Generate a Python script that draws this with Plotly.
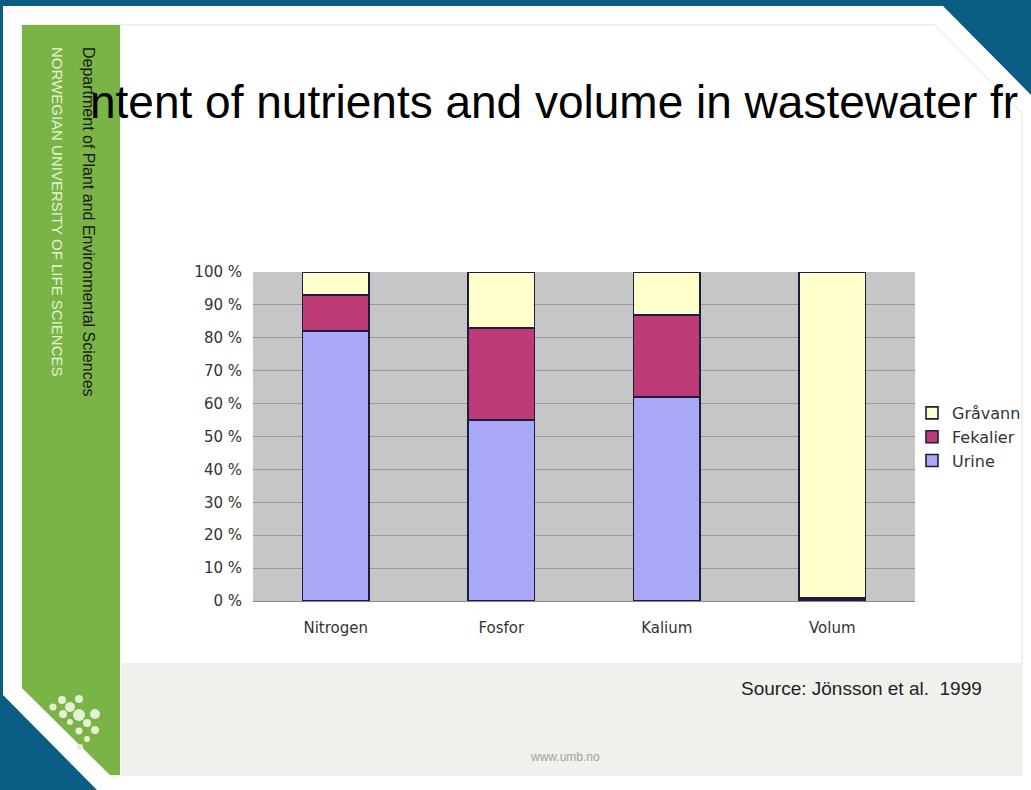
import plotly.graph_objects as go

W, H = 1031, 790

categories = ["Nitrogen", "Fosfor", "Kalium", "Volum"]
urine = [82, 55, 62, 0.5]
fekalier = [11, 28, 25, 0.5]
gravann = [7, 17, 13, 99]
tick_vals = [0, 10, 20, 30, 40, 50, 60, 70, 80, 90, 100]
tick_text = [f"{v} %" for v in tick_vals]

title_text = "ntent of nutrients and volume in wastewater fr"
source_text = "Source: Jönsson et al.  1999"
dept_text = "Department of Plant and Environmental Sciences"
univ_text = "NORWEGIAN UNIVERSITY OF LIFE SCIENCES"

SANS = "Liberation Sans, Arial"
WIDE = "DejaVu Sans, Verdana"


def px(x):
    return x / W


def py(y):
    return 1 - y / H


def path(points):
    return "M " + " L ".join(f"{px(x):.5f},{py(y):.5f}" for x, y in points) + " Z"


outline = dict(color="#1c1c3c", width=1.6)
fig = go.Figure()
fig.add_trace(go.Bar(name="Urine", x=categories, y=urine,
                     marker=dict(color="#aaa9f8", line=outline)))
fig.add_trace(go.Bar(name="Fekalier", x=categories, y=fekalier,
                     marker=dict(color="#bd3b77", line=outline)))
fig.add_trace(go.Bar(name="Gråvann", x=categories, y=gravann,
                     marker=dict(color="#ffffcc", line=outline)))

shapes = [
    dict(type="path", path=path([(3, 6), (943, 6), (1031, 95), (1031, 790), (97, 790), (3, 695)]),
         fillcolor="white", line=dict(width=0)),
    dict(type="path", path=path([(22, 25), (935, 25), (1022, 113), (1022, 775), (110, 775), (22, 688)]),
         fillcolor="white", line=dict(color="#e2e2e2", width=1)),
    dict(type="path", path=path([(22, 25), (120, 25), (120, 775), (110, 775), (22, 688)]),
         fillcolor="#7bb446", line=dict(width=0)),
    dict(type="rect", x0=px(121), x1=px(1022), y0=py(775), y1=py(663),
         fillcolor="#f0f0ec", line=dict(width=0)),
    dict(type="rect", x0=px(253), x1=px(915), y0=py(601), y1=py(272),
         fillcolor="#c6c6c6", line=dict(width=0)),
]
for s in shapes:
    s.update(xref="paper", yref="paper", layer="below")

dots = [(62, 700, 4), (70, 707, 5), (79, 699, 4), (53, 707, 3.5), (63, 714, 4),
        (79, 715, 6), (95, 714, 5), (87, 723, 4), (79, 731, 3.5), (95, 730, 4),
        (87, 739, 3), (80, 747, 3), (70, 722, 3)]
for (cx, cy, r) in dots:
    shapes.append(dict(type="circle", xref="paper", yref="paper", layer="below",
                       x0=px(cx - r), x1=px(cx + r), y0=py(cy + r), y1=py(cy - r),
                       fillcolor="#e2f2d2", line=dict(width=0)))

annotations = [
    dict(text=title_text, x=px(88), y=py(102), xanchor="left", yanchor="middle",
         font=dict(family=SANS, size=46, color="#000000")),
    dict(text=dept_text, x=px(88), y=py(222), textangle=90, xanchor="center", yanchor="middle",
         font=dict(family=SANS, size=16, color="#1a1a1a")),
    dict(text=univ_text, x=px(58), y=py(212), textangle=90, xanchor="center", yanchor="middle",
         font=dict(family=SANS, size=15, color="#e4f4d4")),
    dict(text=source_text, x=px(739), y=py(688), xanchor="left", yanchor="middle",
         font=dict(family=SANS, size=19, color="#222222")),
    dict(text="www.umb.no", x=px(565), y=py(757), xanchor="center", yanchor="middle",
         font=dict(family=SANS, size=12, color="#a0a0a0")),
]
for a in annotations:
    a.update(xref="paper", yref="paper", showarrow=False)

fig.update_layout(
    width=W, height=H,
    margin=dict(l=0, r=0, t=0, b=0, autoexpand=False),
    paper_bgcolor="#0a5e84",
    plot_bgcolor="rgba(0,0,0,0)",
    barmode="stack",
    bargap=0.6,
    shapes=shapes,
    annotations=annotations,
    font=dict(family=WIDE, color="#333333"),
    legend=dict(x=px(912), y=py(437), xanchor="left", yanchor="middle",
                traceorder="reversed", font=dict(family=WIDE, size=16, color="#333333"),
                bgcolor="rgba(0,0,0,0)", itemwidth=30, tracegroupgap=0),
    xaxis=dict(domain=[px(253), px(915)], showgrid=False, zeroline=False,
               tickfont=dict(family=WIDE, size=15, color="#333333"), ticks="",
               showline=False, ticklabelstandoff=16),
    yaxis=dict(domain=[py(601), py(272)], range=[0, 100], tickvals=tick_vals,
               ticktext=tick_text, showgrid=True, gridcolor="#9a9a9a", gridwidth=1,
               zeroline=True, zerolinecolor="#888888", zerolinewidth=1,
               tickfont=dict(family=WIDE, size=15, color="#333333"), ticks="",
               showline=False, ticklabelstandoff=10),
)

fig.write_html("out.html")
